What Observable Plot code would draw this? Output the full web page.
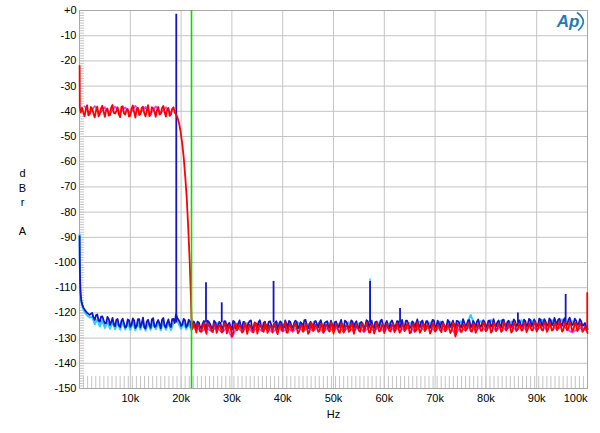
<!DOCTYPE html>
<html><head><meta charset="utf-8">
<script src="https://cdn.jsdelivr.net/npm/d3@7"></script>
<script src="https://cdn.jsdelivr.net/npm/@observablehq/plot@0.6"></script>
<style>body{margin:0;background:#fff}</style>
</head><body><div id="chart"></div>
<script>
// ---- axis ticks ----
const xTicks = [10000, 20000, 30000, 40000, 50000, 60000, 70000, 80000, 90000, 100000];
const yTicks = [0, -10, -20, -30, -40, -50, -60, -70, -80, -90, -100, -110, -120, -130, -140, -150];
const xMinorStepHz = 800;
const yMinorStepDb = 1;

// ---- blue trace ----
const blueLowHz = [20, 60, 120, 200, 350, 500, 800, 1100, 1500, 2000];
const blueLowDb = [-89.5, -100, -108, -112, -115, -116.5, -118, -119, -120, -120.8];
const blueGridStartHz = 2500, blueGridStepHz = 500;
const blueGridDb = [
 -120.0,-122.8,-120.6,-123.5,-121.4,-124.2,-121.6,-124.8,-122.0,-125.3,-122.4,-125.6,-122.3,-125.8,-122.6,-125.5,
 -122.2,-126.0,-122.5,-125.7,-121.9,-126.2,-122.7,-125.9,-122.1,-125.4,-122.8,-126.1,-122.0,-125.8,-122.6,-125.6,-122.4,
 -120.5,-122.8,-125.2,-122.4,-125.6,-122.7,-125.9,
 -123.4,-126.3,-123.8,-126.0,-123.2,-126.5,-123.7,-125.9,-123.1,-126.2,
 -123.6,-126.4,-123.3,-125.8,-123.9,-126.6,-123.5,-126.1,-123.0,-126.3,
 -123.7,-126.0,-123.2,-126.5,-123.8,-125.9,-122.9,-126.4,-123.5,-126.1,
 -123.3,-125.8,-123.9,-126.6,-123.4,-126.2,-123.0,-126.3,-123.6,-125.9,
 -123.1,-126.2,-123.7,-125.9,-122.8,-126.1,-123.5,-126.4,-123.2,-125.8,
 -122.9,-126.1,-123.6,-125.8,-123.1,-126.3,-123.4,-125.7,-122.8,-126.0,
 -123.5,-126.0,-123.0,-125.8,-123.3,-126.2,-123.6,-125.9,-122.9,-125.6,
 -123.1,-125.9,-123.4,-125.7,-122.7,-125.9,-123.2,-126.1,-123.0,-125.6,
 -123.3,-125.8,-122.8,-125.7,-123.1,-126.0,-123.4,-125.8,-122.6,-125.5,
 -123.0,-125.8,-123.3,-126.0,-122.8,-125.6,-123.1,-125.9,-123.4,-125.7,
 -122.8,-125.5,-123.1,-125.9,-123.3,-125.7,-122.5,-125.4,-123.0,-125.8,
 -123.2,-125.6,-122.6,-125.5,-122.9,-125.8,-123.1,-125.4,-122.5,-125.3,
 -123.0,-125.7,-122.7,-125.4,-123.1,-125.6,-122.6,-125.3,-122.9,-125.5,
 -122.7,-125.4,-122.4,-125.2,-122.6,-125.3,-122.3,-125.1,-122.5,-125.0,
 -122.2,-124.9,-122.0,-124.7,-122.3,-125.0,-122.1,-124.6,-121.9,-124.8,
 -122.3,-124.7,-122.5,-125.1,-124.0,-126.5
];
// interleaved FFT bins (half a bin step later)
const blueGrid2StartHz = 2750, blueGrid2StepHz = 500;
const blueGrid2Db = [
 -121.8,-120.9,-123.0,-121.5,-122.9,-124.0,-122.3,-123.6,-124.5,-122.8,-125.0,-123.2,-124.1,-125.4,-122.9,
 -124.6,-123.0,-125.3,-122.5,-124.2,-125.8,-123.4,-124.7,-122.6,-125.5,-123.8,-124.3,-122.7,-125.2,-123.9,-124.8,-122.5,-124.0,
 -122.0,-123.6,-124.5,-122.9,-125.0,-123.3,-124.6,
 -124.9,-123.5,-125.8,-124.2,-125.3,-123.1,-124.6,-126.0,-123.8,-125.1,
 -124.0,-125.7,-123.4,-124.8,-125.5,-123.2,-126.1,-124.3,-125.0,-123.6,
 -125.4,-124.1,-123.0,-125.9,-124.5,-123.7,-125.2,-124.0,-126.0,-123.5,
 -124.7,-125.6,-123.3,-124.9,-123.9,-125.8,-124.4,-123.2,-125.3,-124.1,
 -123.6,-125.5,-124.2,-123.0,-125.1,-124.6,-125.9,-123.4,-124.8,-123.8,
 -125.2,-124.0,-123.3,-125.6,-124.5,-123.7,-125.0,-124.2,-125.7,-123.1,
 -124.6,-125.3,-123.5,-124.1,-125.8,-123.9,-124.7,-125.1,-123.3,-124.4,
 -125.5,-123.6,-124.9,-123.2,-125.0,-124.3,-125.6,-123.8,-124.2,-125.2,
 -123.4,-124.8,-125.4,-123.1,-124.5,-125.7,-123.9,-124.1,-125.0,-123.6,
 -124.9,-123.3,-125.2,-124.4,-123.0,-125.5,-124.2,-123.7,-124.8,-125.3,
 -123.5,-124.6,-125.1,-123.2,-124.0,-125.4,-123.8,-124.7,-122.9,-125.0,
 -124.3,-123.4,-125.2,-124.1,-123.6,-124.9,-123.1,-125.3,-124.5,-123.7,
 -124.8,-122.9,-124.6,-123.5,-125.0,-124.0,-123.3,-124.7,-123.8,-125.1,
 -123.2,-124.5,-122.8,-124.3,-123.6,-124.9,-122.7,-124.1,-123.4,-124.6,
 -122.9,-124.2,-123.5,-122.6,-124.4,-123.1,-124.7,-122.8,-123.9,-124.3,
 -123.0,-124.5,-123.3,-124.8,-125.6
];
const blueSpikeHz = [19050, 24900, 28000, 38200, 57200, 63100, 86300, 95700];
const blueSpikeDb = [-1.5, -108, -116, -107.5, -107.5, -118.3, -120, -112.7];

// ---- cyan trace ----
const cyanLowHz = [20, 60, 120, 200, 350, 500, 800, 1100, 1500, 2000];
const cyanLowDb = [-88.8, -99, -107.5, -112, -115.5, -117, -118.8, -120, -121, -121.8];
const cyanGridStartHz = 2500, cyanGridStepHz = 500;
const cyanGridDb = [
 -121.5,-124.5,-122.6,-125.4,-123.0,-126.0,-123.4,-126.3,-123.6,-126.5,-123.8,-126.7,-123.7,-126.6,-123.9,-126.8,
 -123.8,-126.9,-124.0,-126.6,-123.6,-127.0,-124.1,-126.7,-123.7,-126.5,-124.0,-126.9,-123.6,-126.7,-124.1,-126.8,-123.9,
 -122.0,-124.2,-126.3,-124.0,-126.5,-124.3,-126.7
];
const cyanHighStartHz = 23000, cyanHighStepHz = 1000;
const cyanHighDb = [
 -124.1,-126.3,-124.4,-126.6,-124.0,-126.2,-124.5,-126.8,-124.2,-126.4,
 -124.0,-126.5,-124.3,-126.1,-124.6,-126.7,-123.9,-126.3,-124.2,-126.5,
 -123.8,-126.2,-124.4,-126.0,-124.1,-126.6,-123.9,-126.3,-124.3,-126.1,
 -123.7,-126.0,-124.2,-125.9,-124.0,-126.4,-123.8,-126.1,-124.1,-125.8,
 -123.6,-126.0,-123.9,-125.7,-123.5,-126.1,-123.8,-125.9,-123.4,-125.8,
 -123.7,-125.9,-123.3,-125.6,-120.8,-125.8,-123.2,-125.5,-122.8,-125.4,
 -123.0,-125.6,-123.4,-125.3,-122.9,-125.5,-123.1,-125.2,-122.7,-125.4,
 -122.9,-125.3,-122.6,-125.1,-123.3,-125.4,-124.6,-126.3
];
const cyanSpikeHz = [57200];
const cyanSpikeDb = [-106.5];

// ---- magenta trace ----
const magentaFlatStartHz = 1000, magentaFlatStepHz = 1000;
const magentaFlatDb = [-38.0,-40.8,-37.9,-40.9,-38.3,-41.0,-38.1,-40.6,-38.4,-40.9,-37.8,-40.7,-38.2,-41.1,-38.0,-40.8,-38.3,-40.6];
const magentaHighStartHz = 23000, magentaHighStepHz = 1000;
const magentaHighDb = [
 -125.6,-127.6,-125.8,-127.4,-125.5,-127.8,-125.9,-129.8,-125.7,-127.5,
 -125.4,-127.7,-125.8,-127.3,-125.6,-127.9,-125.5,-127.4,-125.9,-127.6,
 -125.3,-127.5,-125.7,-127.2,-125.4,-127.8,-125.6,-127.3,-125.2,-127.6,
 -125.5,-127.4,-125.1,-127.7,-125.6,-127.2,-125.3,-127.5,-125.0,-127.3,
 -125.4,-127.1,-125.2,-127.6,-125.5,-127.0,-125.1,-127.4,-125.3,-127.2,
 -125.0,-128.9,-125.4,-127.1,-124.9,-127.3,-125.2,-127.0,-124.8,-127.2,
 -125.1,-126.9,-124.7,-127.1,-125.0,-126.8,-124.6,-127.0,-124.9,-126.7,
 -124.5,-126.9,-124.8,-126.6,-127.8,-126.5,-125.8,-127.4
];

// ---- red trace ----
const redLowHz = [20, 60, 250];
const redLowDb = [-22, -38.5, -40.4];
const redFlatStartHz = 500, redFlatStepHz = 500;
const redFlatDb = [
 -38.6,-41.9,-37.6,-41.2,-39.0,-42.4,-38.1,-41.0,-37.8,-42.2,
 -38.9,-41.5,-37.5,-40.9,-38.4,-42.3,-38.0,-41.3,-39.1,-41.8,
 -37.7,-42.5,-38.6,-41.1,-38.2,-42.0,-37.6,-41.4,-38.8,-42.2,
 -38.3,-41.0,-37.9,-42.1,-38.7,-41.3,-38.4
];
const redFlat2StartHz = 750, redFlat2StepHz = 500;
const redFlat2Db = [
 -40.5,-39.2,-41.6,-38.3,-40.9,-39.7,-42.0,-38.8,-40.2,-39.4,
 -41.7,-38.5,-40.6,-39.9,-41.2,-38.2,-40.8,-39.5,-42.1,-38.9,
 -40.3,-39.1,-41.5,-38.6,-40.7,-39.8,-41.9,-38.4,-40.1,-39.6,
 -41.3,-38.7,-40.4,-39.3,-41.8,-39.0,-40.6
];
const redRollHz = [18800, 19000, 19300, 19600, 19900, 20200, 20500, 20800, 21100, 21400, 21700, 21900, 22050, 22200];
const redRollDb = [-40.6, -41.2, -42.6, -44.8, -48, -52.5, -58, -65.5, -74, -86, -100, -112, -122, -126.5];
const redNoiseStartHz = 22500, redNoiseStepHz = 500;
const redNoiseDb = [
 -124.4,-127.8,-125.0,-127.2,-124.0,-128.3,-124.9,-127.0,-124.3,-127.9,
 -125.1,-127.7,-124.1,-128.1,-124.8,-129.3,-124.4,-126.9,-124.9,-127.8,
 -124.2,-128.3,-124.7,-127.1,-123.9,-128.2,-124.6,-127.0,-124.1,-127.9,
 -125.0,-127.6,-124.3,-128.4,-124.5,-127.2,-123.8,-127.8,-124.7,-127.0,
 -124.2,-128.1,-125.1,-127.4,-124.4,-128.3,-124.1,-127.1,-124.8,-127.5,
 -124.3,-127.9,-124.7,-127.0,-123.9,-128.2,-124.5,-127.4,-124.2,-127.8,
 -124.9,-127.5,-124.1,-128.3,-124.4,-127.0,-124.8,-127.3,-123.9,-127.8,
 -124.5,-128.2,-124.0,-127.4,-124.9,-128.0,-124.3,-127.1,-124.7,-127.6,
 -124.1,-127.8,-124.9,-127.2,-124.2,-128.1,-124.6,-127.4,-123.8,-127.9,
 -124.4,-127.2,-124.7,-128.2,-124.1,-127.4,-124.9,-127.0,-124.2,-127.3,
 -124.6,-128.0,-124.0,-129.4,-124.4,-127.5,-124.9,-127.0,-124.1,-127.2,
 -124.3,-127.9,-124.6,-127.1,-123.8,-127.3,-124.4,-127.8,-123.9,-127.2,
 -124.2,-127.5,-123.6,-127.0,-124.3,-127.8,-123.9,-127.2,-124.5,-127.0,
 -123.9,-127.6,-124.2,-126.9,-123.5,-127.4,-124.0,-126.8,-123.8,-127.5,
 -123.6,-127.0,-124.2,-126.7,-123.4,-127.4,-123.8,-126.9,-123.5,-127.3,
 -123.9,-127.2,-124.1,-127.5,-125.6,-128.0
];
const redNoise2StartHz = 22750, redNoise2StepHz = 500;
const redNoise2Db = [
 -126.1,-124.6,-127.4,-125.3,-126.8,-124.2,-125.9,-127.6,-124.9,-126.3,
 -125.0,-127.2,-124.5,-126.6,-125.8,-127.9,-124.3,-126.0,-125.4,-127.3,
 -124.8,-126.5,-125.6,-127.7,-124.1,-126.2,-125.2,-127.5,-124.7,-126.9,
 -125.5,-124.4,-127.1,-125.9,-126.4,-124.6,-127.8,-125.1,-126.7,-124.9,
 -126.0,-127.3,-124.8,-126.5,-125.3,-127.6,-124.2,-126.1,-125.7,-127.2,
 -124.5,-126.8,-125.1,-127.4,-124.9,-126.3,-125.6,-127.9,-124.4,-126.6,
 -125.2,-127.0,-124.7,-126.4,-125.8,-127.5,-124.1,-126.2,-125.4,-127.7,
 -124.9,-126.7,-125.3,-127.1,-124.6,-126.0,-125.9,-127.4,-124.3,-126.5,
 -125.6,-127.2,-124.8,-126.3,-125.1,-127.8,-124.5,-126.9,-125.7,-127.0,
 -124.4,-126.1,-125.5,-127.3,-124.9,-126.6,-125.2,-127.6,-124.7,-126.4,
 -125.8,-127.1,-124.3,-126.8,-125.0,-127.5,-124.6,-126.2,-125.3,-127.4,
 -124.8,-126.5,-125.6,-127.0,-124.2,-126.7,-125.1,-127.2,-124.5,-126.3,
 -125.4,-126.9,-124.7,-126.1,-125.2,-127.1,-124.4,-126.6,-125.0,-126.8,
 -124.6,-126.4,-125.3,-126.9,-124.1,-126.2,-125.0,-127.0,-124.3,-126.5,
 -124.9,-126.7,-124.2,-126.0,-125.1,-126.8,-124.5,-126.3,-124.8,-126.6,
 -124.4,-126.2,-125.0,-126.9,-126.3
];
const redSpikeHz = [99950];
const redSpikeDb = [-112];

// ---- green marker ----
const greenLineHz = [22050];

// ---- helpers ----
const pairs = (hz, db) => hz.map((h, i) => ({hz: h, db: db[i]}));
const grid = (start, step, db) => db.map((v, i) => ({hz: start + i * step, db: v}));
const byHz = (a, b) => a.hz - b.hz;

const blue = [...pairs(blueLowHz, blueLowDb), ...grid(blueGridStartHz, blueGridStepHz, blueGridDb),
  ...grid(blueGrid2StartHz, blueGrid2StepHz, blueGrid2Db)].sort(byHz);
const cyan = [...pairs(cyanLowHz, cyanLowDb), ...grid(cyanGridStartHz, cyanGridStepHz, cyanGridDb), ...grid(cyanHighStartHz, cyanHighStepHz, cyanHighDb)];
const magentaFlat = grid(magentaFlatStartHz, magentaFlatStepHz, magentaFlatDb);
const magentaHigh = grid(magentaHighStartHz, magentaHighStepHz, magentaHighDb);
const red = [...pairs(redLowHz, redLowDb), ...grid(redFlatStartHz, redFlatStepHz, redFlatDb),
  ...grid(redFlat2StartHz, redFlat2StepHz, redFlat2Db), ...pairs(redRollHz, redRollDb),
  ...grid(redNoiseStartHz, redNoiseStepHz, redNoiseDb), ...grid(redNoise2StartHz, redNoise2StepHz, redNoise2Db)].sort(byHz);
const blueSpikes = pairs(blueSpikeHz, blueSpikeDb);
const cyanSpikes = pairs(cyanSpikeHz, cyanSpikeDb);
const redSpikes = pairs(redSpikeHz, redSpikeDb);

const xMinor = d3.range(0, 100001, xMinorStepHz);
const yMinor = d3.range(-150, 0, yMinorStepDb);

const BLUE = "#1414c8", CYAN = "#33ccff", RED = "#ff0000", MAG = "#e040ff", GREEN = "#00e000";
const fmtY = d => d === 0 ? "+0" : String(d);

const chart = Plot.plot({
  width: 600, height: 433,
  marginLeft: 79, marginRight: 13, marginTop: 10, marginBottom: 45,
  style: {fontFamily: "'Liberation Sans', Arial, sans-serif", fontSize: "11px", background: "#fff", color: "#000"},
  x: {domain: [0, 100000]},
  y: {domain: [-150, 0]},
  marks: [
    Plot.gridX(xTicks, {stroke: "#c4c4c4", strokeOpacity: 1}),
    Plot.gridY(yTicks, {stroke: "#c4c4c4", strokeOpacity: 1}),
    Plot.ruleX(xMinor, {y1: -150, y2: -145.2, stroke: "#c4c4c4"}),
    Plot.ruleY(yMinor, {x1: 0, x2: 1000, stroke: "#c4c4c4"}),
    Plot.frame({stroke: "#a8a8a8"}),
    Plot.line(magentaFlat, {x: "hz", y: "db", stroke: MAG, strokeWidth: 1.6}),
    Plot.line(magentaHigh, {x: "hz", y: "db", stroke: MAG, strokeWidth: 1.6}),
    Plot.ruleX(cyanSpikes, {x: "hz", y1: -124, y2: "db", stroke: CYAN, strokeWidth: 1.6}),
    Plot.line(cyan, {x: "hz", y: "db", stroke: CYAN, strokeWidth: 2}),
    Plot.line(blue, {x: "hz", y: "db", stroke: BLUE, strokeWidth: 1.8}),
    Plot.ruleX(blueSpikes, {x: "hz", y1: -124, y2: "db", stroke: BLUE, strokeWidth: 1.8}),
    Plot.line(red, {x: "hz", y: "db", stroke: RED, strokeWidth: 1.8}),
    Plot.ruleX(redSpikes, {x: "hz", y1: -127, y2: "db", stroke: RED, strokeWidth: 1.8}),
    Plot.ruleX(greenLineHz, {stroke: GREEN, strokeWidth: 1.6}),
    Plot.axisX(xTicks.slice(0, -1), {tickSize: 0, tickPadding: 6, tickFormat: d => d / 1000 + "k", label: null}),
    Plot.axisX(xTicks.slice(-1), {tickSize: 0, tickPadding: 6, textAnchor: "end", tickFormat: d => d / 1000 + "k", label: null}),
    Plot.axisY(yTicks, {tickSize: 0, tickPadding: 3, tickFormat: fmtY, label: null}),
    Plot.text(["d\nB\nr\n\nA"], {frameAnchor: "left", dx: -57, dy: 2, lineHeight: 1.32, textAnchor: "middle", fill: "#000"}),
    Plot.text(["Hz"], {frameAnchor: "bottom", dy: 29, textAnchor: "middle", fill: "#000"})
  ]
});

// Ap logo
const svg = d3.select(chart);
const logo = svg.append("g").attr("fill", "none");
logo.append("text").attr("x", 568).attr("y", 27).attr("text-anchor", "middle")
  .attr("font-family", "'Liberation Sans', Arial, sans-serif").attr("font-size", 17)
  .attr("font-style", "italic").attr("font-weight", "bold").attr("fill", "#1f7ab8").text("Ap");
logo.append("path").attr("d", "M577,12.5 Q589,21 578,30.5").attr("stroke", "#1f7ab8").attr("stroke-width", 1.6);

document.getElementById("chart").appendChild(chart);
</script>
</body></html>
